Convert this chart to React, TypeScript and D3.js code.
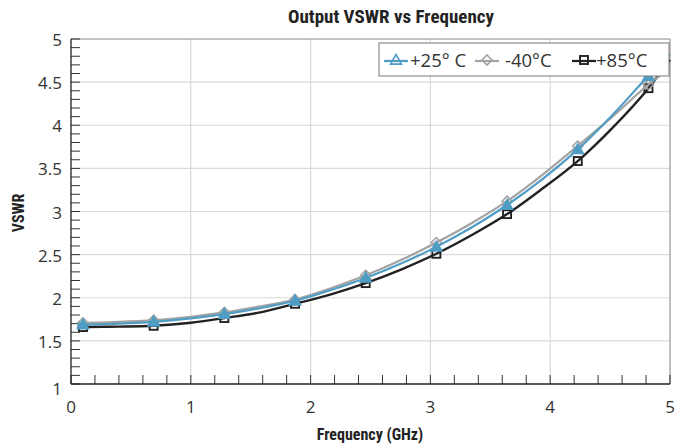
import React from "react";
import * as d3 from "d3";

const freqs = [0.05, 0.1, 0.4, 0.69, 1.0, 1.28, 1.58, 1.87, 2.17, 2.46, 2.76, 3.05, 3.35, 3.64, 3.93, 4.23, 4.52, 4.82, 5.0];
const vswr25 = [1.69, 1.69, 1.70, 1.72, 1.76, 1.81, 1.88, 1.965, 2.09, 2.23, 2.40, 2.59, 2.82, 3.075, 3.37, 3.72, 4.12, 4.57, 4.82];
const vswrM40 = [1.71, 1.71, 1.72, 1.74, 1.78, 1.83, 1.90, 1.98, 2.11, 2.26, 2.44, 2.64, 2.87, 3.12, 3.42, 3.76, 4.10, 4.47, 4.66];
const vswr85 = [1.65, 1.66, 1.665, 1.675, 1.71, 1.765, 1.83, 1.93, 2.04, 2.17, 2.33, 2.51, 2.73, 2.97, 3.26, 3.585, 3.97, 4.43, 4.76];
const markerIdx = [1, 3, 5, 7, 9, 11, 13, 15, 17];
const xTicks = [0, 1, 2, 3, 4, 5];
const yTicks = [1, 1.5, 2, 2.5, 3, 3.5, 4, 4.5, 5];
const seriesNames = ["+25° C", "-40°C", "+85°C"];

const W = 688, H = 444;
const M = { left: 71, right: 670, top: 39, bottom: 384 };

export default function App() {
  const x = d3.scaleLinear().domain([0, 5]).range([M.left, M.right]);
  const y = d3.scaleLinear().domain([1, 5]).range([M.bottom, M.top]);
  const line = d3.line<number>().x((_, i) => x(freqs[i])).y((d) => y(d)).curve(d3.curveMonotoneX);

  const series = [
    { name: seriesNames[0], vals: vswr25, color: "#4f9cc4", shape: "tri", w: 2.2 },
    { name: seriesNames[1], vals: vswrM40, color: "#a3a3a3", shape: "dia", w: 2.2 },
    { name: seriesNames[2], vals: vswr85, color: "#222222", shape: "sq", w: 2.4 },
  ];
  const drawOrder = [2, 1, 0];

  const marker = (shape: string, cx: number, cy: number, color: string, key: any, filled: boolean) => {
    if (shape === "tri") {
      const s = 5.5;
      return <path key={key} d={`M${cx},${cy - s}L${cx + s},${cy + s * 0.75}L${cx - s},${cy + s * 0.75}Z`} fill={filled ? color : "white"} fillOpacity={filled ? 1 : 0} stroke={color} strokeWidth={1.6} />;
    }
    if (shape === "dia") {
      const s = 5;
      return <path key={key} d={`M${cx},${cy - s}L${cx + s},${cy}L${cx},${cy + s}L${cx - s},${cy}Z`} fill="white" fillOpacity={filled ? 1 : 0} stroke={color} strokeWidth={1.6} />;
    }
    const s = 4;
    return <rect key={key} x={cx - s} y={cy - s} width={2 * s} height={2 * s} fill="white" fillOpacity={filled ? 1 : 0} stroke={color} strokeWidth={1.9} />;
  };

  const yMinor = d3.range(1, 5.001, 0.1);
  const xMinor = d3.range(0, 5.001, 0.2);
  const tickFont = "'Open Sans', 'DejaVu Sans', sans-serif";
  const boldFont = "'Liberation Sans Narrow', 'Roboto Condensed', 'Arial Narrow', sans-serif";

  const legendItems = [
    { lx: 384, tx: 410 },
    { lx: 475, tx: 505 },
    { lx: 572, tx: 596 },
  ];

  return (
    <svg width={W} height={H} style={{ position: "absolute", left: 0, top: 0 }}>
      <rect width={W} height={H} fill="white" />
      <text x={391} y={23} textAnchor="middle" fontFamily={boldFont} fontWeight="bold" fontSize={19} fill="#222">Output VSWR vs Frequency</text>
      {xTicks.slice(1).map((t) => (
        <line key={"gx" + t} x1={x(t)} x2={x(t)} y1={M.top} y2={M.bottom} stroke="#d9d9d9" strokeWidth={1.2} />
      ))}
      {yTicks.slice(1).map((t) => (
        <line key={"gy" + t} x1={M.left} x2={M.right} y1={y(t)} y2={y(t)} stroke="#d9d9d9" strokeWidth={1.2} />
      ))}
      <line x1={M.left} x2={M.right} y1={M.top} y2={M.top} stroke="#999" strokeWidth={1} />
      <line x1={M.right} x2={M.right} y1={M.top} y2={M.bottom} stroke="#999" strokeWidth={1} />
      {yMinor.map((t, i) => (
        <line key={"my" + i} x1={M.left} x2={M.left + 9} y1={y(t)} y2={y(t)} stroke="#333" strokeWidth={1} />
      ))}
      {xMinor.map((t, i) => (
        <line key={"mx" + i} x1={x(t)} x2={x(t)} y1={M.bottom} y2={M.bottom - 9} stroke="#333" strokeWidth={1} />
      ))}
      {drawOrder.map((si) => {
        const s = series[si];
        return (
          <g key={s.name}>
            <path d={line(s.vals) || ""} fill="none" stroke={s.color} strokeWidth={s.w} />
            {markerIdx.map((mi) => marker(s.shape, x(freqs[mi]), y(s.vals[mi]), s.color, mi, s.shape === "tri"))}
          </g>
        );
      })}
      <line x1={M.left} x2={M.left} y1={M.top} y2={M.bottom} stroke="#222" strokeWidth={1.3} />
      <line x1={M.left} x2={M.right} y1={M.bottom} y2={M.bottom} stroke="#222" strokeWidth={1.3} />
      {yTicks.map((t) => (
        <text key={"yl" + t} x={62} y={y(t) + 7 + (t === 1 ? 4 : 0)} textAnchor="end" fontFamily={tickFont} fontSize={17} fill="#333">{t}</text>
      ))}
      {xTicks.map((t) => (
        <text key={"xl" + t} x={x(t)} y={413} textAnchor="middle" fontFamily={tickFont} fontSize={17} fill="#333">{t}</text>
      ))}
      <text x={370} y={440} textAnchor="middle" fontFamily={boldFont} fontWeight="bold" fontSize={16} fill="#222">Frequency (GHz)</text>
      <text transform="translate(24,213) rotate(-90)" textAnchor="middle" fontFamily={boldFont} fontWeight="bold" fontSize={16} fill="#222">VSWR</text>
      <rect x={379} y={43} width={290} height={33} fill="white" stroke="#777" strokeWidth={1} />
      {series.map((s, i) => (
        <g key={"lg" + i}>
          <line x1={legendItems[i].lx} x2={legendItems[i].lx + 24} y1={61} y2={61} stroke={s.color} strokeWidth={2.2} />
          {marker(s.shape, legendItems[i].lx + 12, 60, s.color, "lm" + i, false)}
          <text x={legendItems[i].tx} y={67} fontFamily={tickFont} fontSize={18.5} fill="#333">{s.name}</text>
        </g>
      ))}
    </svg>
  );
}
